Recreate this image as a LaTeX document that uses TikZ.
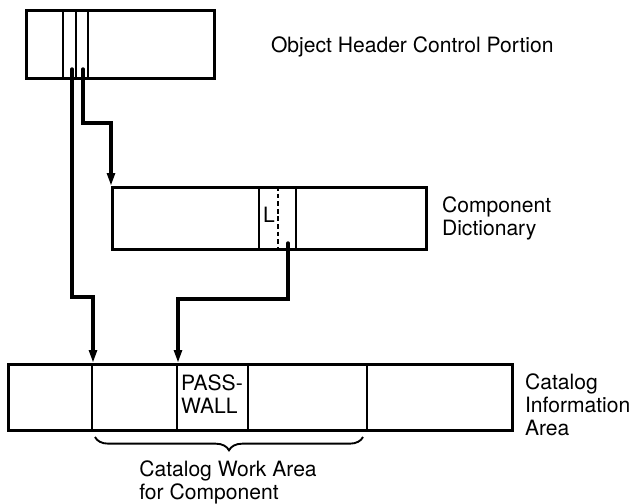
\documentclass[tikz,border=0pt]{standalone}
\usepackage{fontspec}
\setmainfont{TeX Gyre Heros}
\usepackage{tikz}
\usetikzlibrary{arrows.meta, positioning, calc, decorations.pathreplacing}
\tikzset{
	area/.style ={rectangle, draw=black, line width=2.4pt, anchor=north west, inner sep=0pt},
	cell/.style ={line width=1.7pt},
	ptr/.style  ={-{Triangle[length=11pt, width=6.5pt]}, line width=2.9pt, line cap=round},
	lbl/.style  ={inner sep=0pt, align=left, font=\fontsize{18}{19.6}\selectfont},
	underbrace/.style={decorate, decoration={brace, mirror, amplitude=0.4cm}, line width=1.6pt},
}

\begin{document}
\begin{tikzpicture}[x=0.03cm, y=-0.03cm]
	\useasboundingbox (0,0) rectangle (635,504);
	% storage areas
	\node[area, minimum width=5.64cm, minimum height=2.04cm] (hdr) at (25,9) {};
	\node[area, minimum width=9.42cm, minimum height=1.86cm] (dict) at (111,186) {};
	\node[area, minimum width=15.12cm, minimum height=1.98cm] (cia) at (7,363) {};
	% fields inside the areas
	\foreach \u in {63,76,88}
		\draw[cell] (\u,0 |- hdr.north) -- (\u,0 |- hdr.south);
	\draw[cell] (259,0 |- dict.north) -- (259,0 |- dict.south);
	\draw[cell, dash pattern=on 4pt off 2.5pt] (278,0 |- dict.north) -- (278,0 |- dict.south);
	\draw[cell] (296,0 |- dict.north) -- (296,0 |- dict.south);
	\foreach \u in {92,177,248,367}
		\draw[cell] (\u,0 |- cia.north) -- (\u,0 |- cia.south);
	\node[lbl] (len) at (269,215) {L};
	\node[lbl, anchor=north west] (pwlbl) at (181,375) {PASS-\\WALL};
	% names of the areas
	\node[lbl, right=1.65cm of hdr, yshift=-2.5pt] (hdrlbl) {Object Header Control Portion};
	\node[lbl, right=0.42cm of dict] (dictlbl) {Component\\Dictionary};
	\node[lbl, right=0.33cm of cia, yshift=-6pt] (cialbl) {Catalog\\Information\\Area};
	% work area
	\draw[underbrace] (95,437) -- (363,437);
	\node[lbl, anchor=north] (wklbl) at (228,461) {Catalog Work Area\\for Component};
	% pointers
	\coordinate (hdrA) at (72,69);
	\coordinate (hdrB) at (83,69);
	\coordinate (dictP) at (288,243);
	\coordinate (wk) at (93,0 |- cia.north);
	\coordinate (pw) at (178,0 |- cia.north);
	\draw[ptr] (hdrA) |- (wk |- 0,297) -- (wk);
	\draw[ptr] (hdrB) |- (dict.north west |- 0,123) -- (dict.north west);
	\draw[ptr] (dictP) |- (pw |- 0,299) -- (pw);
\end{tikzpicture}
\end{document}
